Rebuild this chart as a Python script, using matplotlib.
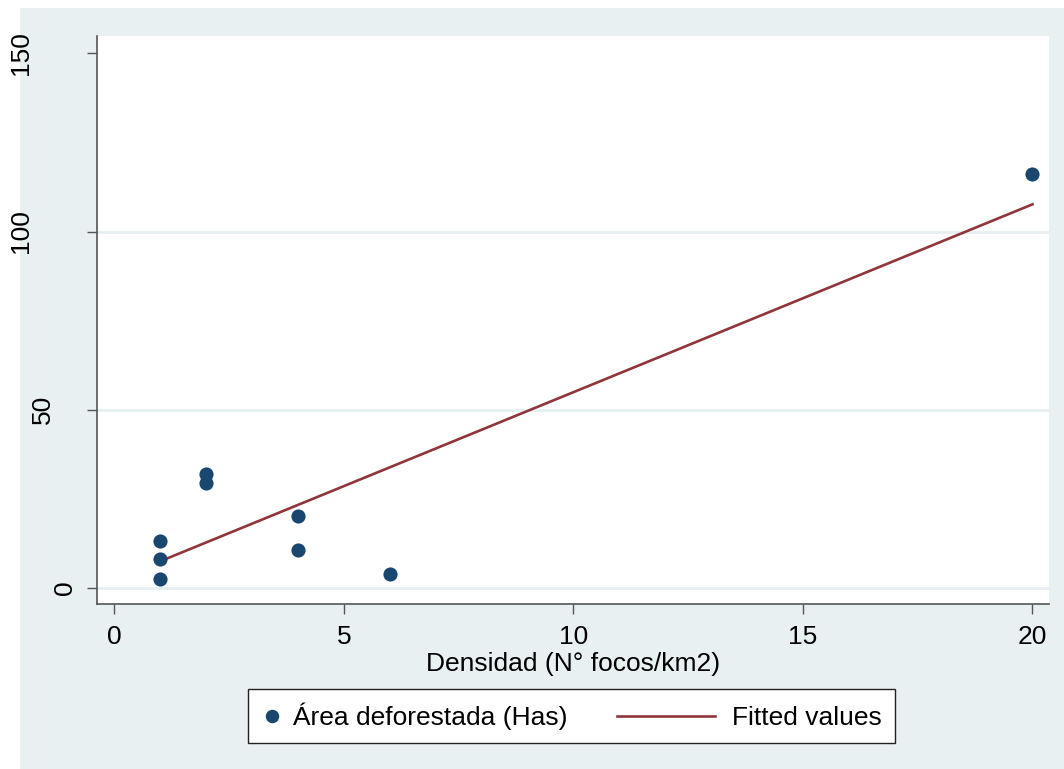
import numpy as np
import matplotlib
matplotlib.use("Agg")
import matplotlib.pyplot as plt
from matplotlib.lines import Line2D
from matplotlib.patches import Rectangle
from matplotlib.legend_handler import HandlerLine2D
from matplotlib.transforms import ScaledTranslation

plt.rcParams["font.family"] = ["Liberation Sans", "DejaVu Sans"]

# data
densidad = [1, 1, 1, 2, 2, 4, 4, 6, 20]
area_def = [13.1, 8.1, 2.4, 31.9, 29.3, 20.1, 10.6, 3.9, 116.1]
x_ticks = [0, 5, 10, 15, 20]
y_ticks = [0, 50, 100, 150]
y_grid = [0, 50, 100]

NAVY = "#1a476f"
MAROON = "#90353b"
BG = "#e8f0f2"
GRID = "#e6eff1"
AXIS = "#555555"
FS = 19

W, H = 1064, 769


class LongLineHandler(HandlerLine2D):
    """Line handle that reaches out to the left of its (narrow) box."""

    def create_artists(self, legend, orig_handle, xdescent, ydescent,
                       width, height, fontsize, trans):
        xdata = np.array([-xdescent - 3.14 * fontsize, -xdescent + 0.57 * fontsize])
        ydata = np.full(2, (height - ydescent) / 2)
        line = Line2D(xdata, ydata)
        self.update_prop(line, orig_handle, legend)
        line.set_transform(trans)
        return [line]


fig = plt.figure(figsize=(W / 100, H / 100), dpi=100, facecolor="white")
fig.add_artist(Rectangle((20 / W, 0), 1 - 20 / W, 1 - 8 / H,
                         transform=fig.transFigure, facecolor=BG,
                         edgecolor="none", zorder=-1))

ax = fig.add_axes([97 / W, 1 - 604 / H, (1049 - 97) / W, (604 - 36) / H])
ax.set_facecolor("white")

slope, intercept = np.polyfit(densidad, area_def, 1)
fx = np.array([min(densidad), max(densidad)])
fy = intercept + slope * fx

for g in y_grid:
    ax.axhline(g, color=GRID, linewidth=2, zorder=1)

pts, = ax.plot(densidad, area_def, "o", color=NAVY, markersize=10.2,
               markeredgewidth=0, zorder=3, label="Área deforestada (Has)")
fit, = ax.plot(fx, fy, color=MAROON, linewidth=1.9, zorder=2,
               label="Fitted values")

ax.set_xlim(-0.38, 20.36)
ax.set_ylim(-4.6, 154.9)
ax.set_xticks(x_ticks)
ax.set_yticks(y_ticks)

for side in ("top", "right"):
    ax.spines[side].set_visible(False)
for side in ("left", "bottom"):
    ax.spines[side].set_color(AXIS)
    ax.spines[side].set_linewidth(1.2)

ax.tick_params(axis="both", direction="out", colors=AXIS, labelcolor="black",
               labelsize=FS, width=1.0, length=7)
ax.tick_params(axis="y", pad=7.5)
ax.tick_params(axis="x", pad=8)

# rotated y labels, shifted left by their length like the original
for tick, val in zip(ax.yaxis.get_major_ticks(), y_ticks):
    lab = tick.label1
    lab.set_rotation(90)
    lab.set_va("center")
    n = len(str(val))
    dx = -(n - 1) * 22 / 100
    lab.set_transform(lab.get_transform() + ScaledTranslation(dx, 0, fig.dpi_scale_trans))

ax.set_xlabel("Densidad (N° focos/km2)", fontsize=FS, labelpad=2)

leg = fig.legend(handles=[pts, fit], loc="center", ncol=2,
                 bbox_to_anchor=(571.5 / W, 1 - 716 / H),
                 fontsize=FS, frameon=True, fancybox=False,
                 handlelength=0.8, handletextpad=0.41, columnspacing=5.0,
                 borderpad=0.5, borderaxespad=0, markerscale=0.95,
                 handler_map={fit: LongLineHandler()})
leg.get_frame().set_edgecolor("#222222")
leg.get_frame().set_linewidth(1.0)
leg.get_frame().set_facecolor("white")
leg.get_frame().set_alpha(1)

fig.savefig("out.png", dpi=100, facecolor="white")
